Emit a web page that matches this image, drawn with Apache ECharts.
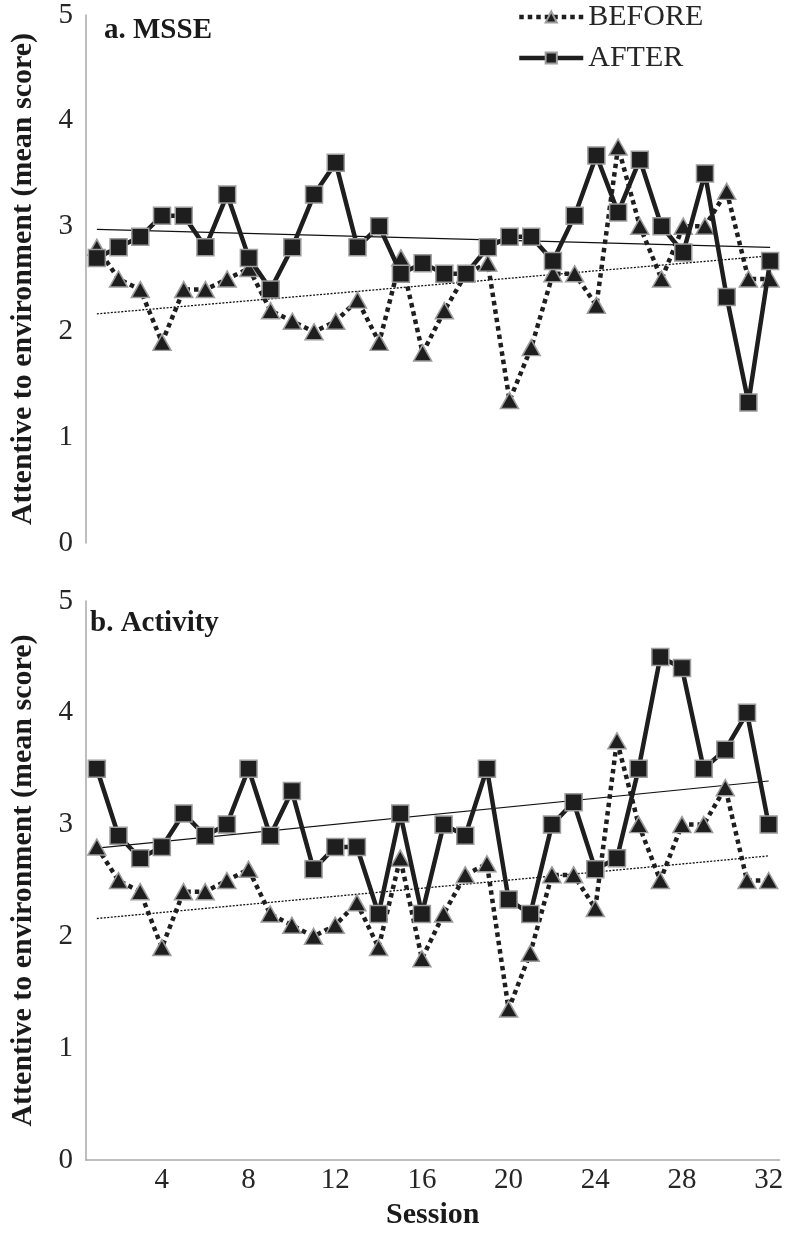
<!DOCTYPE html>
<html>
<head>
<meta charset="utf-8">
<script src="https://cdn.jsdelivr.net/npm/echarts@6/dist/echarts.min.js"></script>
<style>
html,body{margin:0;padding:0;background:#fff;}
#chart{width:786px;height:1233px;}
</style>
</head>
<body>
<div id="chart"></div>
<script>
const sessions = ['1','2','3','4','5','6','7','8','9','10','11','12','13','14','15','16',
  '17','18','19','20','21','22','23','24','25','26','27','28','29','30','31','32'];
const xTickLabels = ['4','8','12','16','20','24','28','32'];
const yTicks = [0, 1, 2, 3, 4, 5];

// Panel a. MSSE
const beforeA = [2.8,2.5,2.4,1.9,2.4,2.4,2.5,2.6,2.2,2.1,2.0,2.1,2.3,1.9,2.7,1.8,
  2.2,2.55,2.65,1.35,1.85,2.55,2.55,2.25,3.75,3.0,2.5,3.0,3.0,3.33,2.5,2.5];
const afterA = [2.7,2.8,2.9,3.1,3.1,2.8,3.3,2.7,2.4,2.8,3.3,3.6,2.8,3.0,2.55,2.65,
  2.55,2.55,2.8,2.9,2.9,2.67,3.1,3.67,3.13,3.63,3.0,2.75,3.5,2.33,1.33,2.67];
const trendBeforeA = [2.17, 2.72];
const trendAfterA = [2.97, 2.80];

// Panel b. Activity
const beforeB = [2.8,2.5,2.4,1.9,2.4,2.4,2.5,2.6,2.2,2.1,2.0,2.1,2.3,1.9,2.7,1.8,
  2.2,2.55,2.65,1.35,1.85,2.55,2.55,2.25,3.75,3.0,2.5,3.0,3.0,3.33,2.5,2.5];
const afterB = [3.5,2.9,2.7,2.8,3.1,2.9,3.0,3.5,2.9,3.3,2.6,2.8,2.8,2.2,3.1,2.2,
  3.0,2.9,3.5,2.33,2.2,3.0,3.2,2.6,2.7,3.5,4.5,4.4,3.5,3.67,4.0,3.0];
const trendBeforeB = [2.16, 2.72];
const trendAfterB = [2.79, 3.39];

const FONT = '"Liberation Serif", "Times New Roman", serif';
const INK = '#1e1e1e';
const EDGE = '#9c9c9c';
const AXIS = '#a8a8a8';

function trend(vals, xi, yi, dotted) {
  return {
    type: 'line', xAxisIndex: xi, yAxisIndex: yi, silent: true,
    data: [[sessions[0], vals[0]], [sessions[sessions.length - 1], vals[1]]],
    symbol: 'none', z: 1,
    lineStyle: { color: '#111', width: dotted ? 1.3 : 1.2, type: dotted ? [2, 1.5] : 'solid' }
  };
}
function beforeSeries(vals, xi, yi) {
  return {
    name: 'BEFORE', type: 'line', xAxisIndex: xi, yAxisIndex: yi, data: vals, z: 3,
    symbol: 'triangle', symbolSize: [18, 16], showAllSymbol: true,
    lineStyle: { color: INK, width: 4.5, type: [4.5, 4] },
    itemStyle: { color: INK, borderColor: EDGE, borderWidth: 1.5 }
  };
}
function afterSeries(vals, xi, yi) {
  return {
    name: 'AFTER', type: 'line', xAxisIndex: xi, yAxisIndex: yi, data: vals, z: 4,
    symbol: 'rect', symbolSize: 17, showAllSymbol: true,
    lineStyle: { color: INK, width: 4.5 },
    itemStyle: { color: INK, borderColor: EDGE, borderWidth: 1.5 }
  };
}
function yAxis(gi) {
  return {
    type: 'value', gridIndex: gi, min: yTicks[0], max: yTicks[yTicks.length - 1], interval: 1,
    name: 'Attentive to environment (mean score)', nameLocation: 'middle', nameGap: 48,
    nameTextStyle: { fontFamily: FONT, fontWeight: 'bold', fontSize: 30, color: '#1a1a1a' },
    axisLine: { show: true, lineStyle: { color: AXIS, width: 1.5 } },
    axisTick: { show: false }, splitLine: { show: false },
    axisLabel: { fontFamily: FONT, fontSize: 29, color: '#262626', margin: 13 }
  };
}

const chart = echarts.init(document.getElementById('chart'), null, { renderer: 'canvas' });
chart.setOption({
  animation: false,
  backgroundColor: '#fff',
  title: [
    { text: 'a. MSSE', left: 99, top: 11, textStyle: { fontFamily: FONT, fontWeight: 'bold', fontSize: 29, color: '#1a1a1a' } },
    { text: 'b. Activity', left: 85, top: 604, textStyle: { fontFamily: FONT, fontWeight: 'bold', fontSize: 29, color: '#1a1a1a' } }
  ],
  legend: {
    data: ['BEFORE', 'AFTER'], orient: 'vertical', left: 512, top: -3,
    itemWidth: 64, itemHeight: 14, itemGap: 11,
    lineStyle: { width: 4.5 },
    textStyle: { fontFamily: FONT, fontSize: 30, color: '#262626' }
  },
  grid: [
    { left: 76, right: 5, top: 15, height: 528 },
    { left: 76, right: 5, top: 601, height: 559 }
  ],
  xAxis: [
    { type: 'category', gridIndex: 0, data: sessions, boundaryGap: true,
      axisLine: { show: false }, axisTick: { show: false }, axisLabel: { show: false } },
    { type: 'category', gridIndex: 1, data: sessions, boundaryGap: true,
      name: 'Session', nameLocation: 'middle', nameGap: 40,
      nameTextStyle: { fontFamily: FONT, fontWeight: 'bold', fontSize: 30, color: '#1a1a1a' },
      axisLine: { show: true, lineStyle: { color: AXIS, width: 1.5 } }, axisTick: { show: false },
      axisLabel: { fontFamily: FONT, fontSize: 29, color: '#262626', margin: 6,
        interval: (i, v) => xTickLabels.indexOf(v) >= 0 } }
  ],
  yAxis: [yAxis(0), yAxis(1)],
  series: [
    trend(trendBeforeA, 0, 0, true), trend(trendAfterA, 0, 0, false),
    beforeSeries(beforeA, 0, 0), afterSeries(afterA, 0, 0),
    trend(trendBeforeB, 1, 1, true), trend(trendAfterB, 1, 1, false),
    beforeSeries(beforeB, 1, 1), afterSeries(afterB, 1, 1)
  ]
});
</script>
</body>
</html>
